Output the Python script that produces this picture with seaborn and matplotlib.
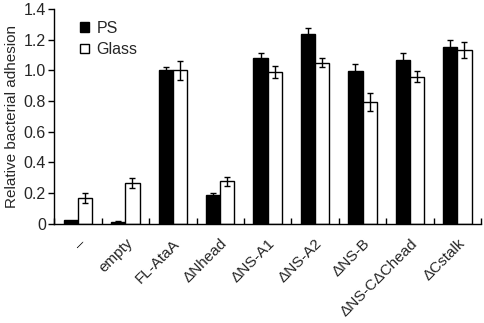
import numpy as np
import pandas as pd
import matplotlib
matplotlib.use("Agg")
import matplotlib.pyplot as plt
import seaborn as sns

constructs = ["\u2013", "empty", "FL-AtaA", "\u0394Nhead", "\u0394NS-A1",
              "\u0394NS-A2", "\u0394NS-B", "\u0394NS-C\u0394Chead", "\u0394Cstalk"]
ps_mean = [0.025, 0.015, 1.00, 0.19, 1.08, 1.235, 0.995, 1.065, 1.15]
ps_err = [0.0, 0.005, 0.02, 0.008, 0.033, 0.044, 0.045, 0.05, 0.05]
glass_mean = [0.167, 0.268, 1.00, 0.278, 0.99, 1.05, 0.795, 0.96, 1.132]
glass_err = [0.033, 0.033, 0.06, 0.03, 0.04, 0.03, 0.06, 0.035, 0.05]
surfaces = ["PS", "Glass"]

df = pd.DataFrame({
    "construct": constructs * 2,
    "surface": ["PS"] * len(constructs) + ["Glass"] * len(constructs),
    "value": ps_mean + glass_mean,
    "err": ps_err + glass_err,
})

sns.set_style("ticks")
plt.rcParams["font.family"] = ["Liberation Sans", "DejaVu Sans"]

fig = plt.figure(figsize=(4.84, 3.23), dpi=100)
ax = fig.add_axes([0.112, 0.307, 0.882, 0.665])

sns.barplot(data=df, x="construct", y="value", hue="surface", hue_order=surfaces,
            palette={"PS": "black", "Glass": "white"}, edgecolor="black",
            linewidth=1.0, width=0.6, errorbar=None, ax=ax)

# error bars from the precomputed errors, at the bar centres
for cont, errs in zip(ax.containers, [ps_err, glass_err]):
    for bar, e in zip(cont, errs):
        if e > 0:
            ax.errorbar(bar.get_x() + bar.get_width() / 2, bar.get_height(), yerr=e,
                        fmt="none", ecolor="black", elinewidth=1.0, capsize=2.5,
                        capthick=1.0)

ax.set_xlim(-0.5, len(constructs) - 0.5)
ax.set_ylim(0, 1.4)
ax.set_yticks(np.arange(0, 1.41, 0.2))
ax.set_yticklabels(["0"] + [f"{v:.1f}" for v in np.arange(0.2, 1.41, 0.2)], fontsize=11.5)
ax.set_xticks(range(len(constructs)))
ax.set_xticklabels(constructs, rotation=45, ha="right", rotation_mode="anchor", fontsize=11)
ax.tick_params(axis="x", length=0, pad=9)
ax.set_xticks(np.arange(-0.5, len(constructs)), minor=True)
ax.tick_params(axis="x", which="minor", length=4, width=1, direction="in", color="black")
ax.tick_params(axis="y", length=4, width=1, direction="out", color="black", pad=2)
ax.set_xlabel("")
ax.set_ylabel("Relative bacterial adhesion", fontsize=11, labelpad=3)
sns.despine(ax=ax)
for s in ["left", "bottom"]:
    ax.spines[s].set_linewidth(1.0)
    ax.spines[s].set_color("black")

leg = ax.legend(loc="upper left", bbox_to_anchor=(0.045, 0.975), frameon=False,
                fontsize=11.5, handlelength=0.55, handleheight=0.55, handletextpad=0.5,
                labelspacing=0.4, borderaxespad=0)

fig.savefig("out.png", dpi=100)
